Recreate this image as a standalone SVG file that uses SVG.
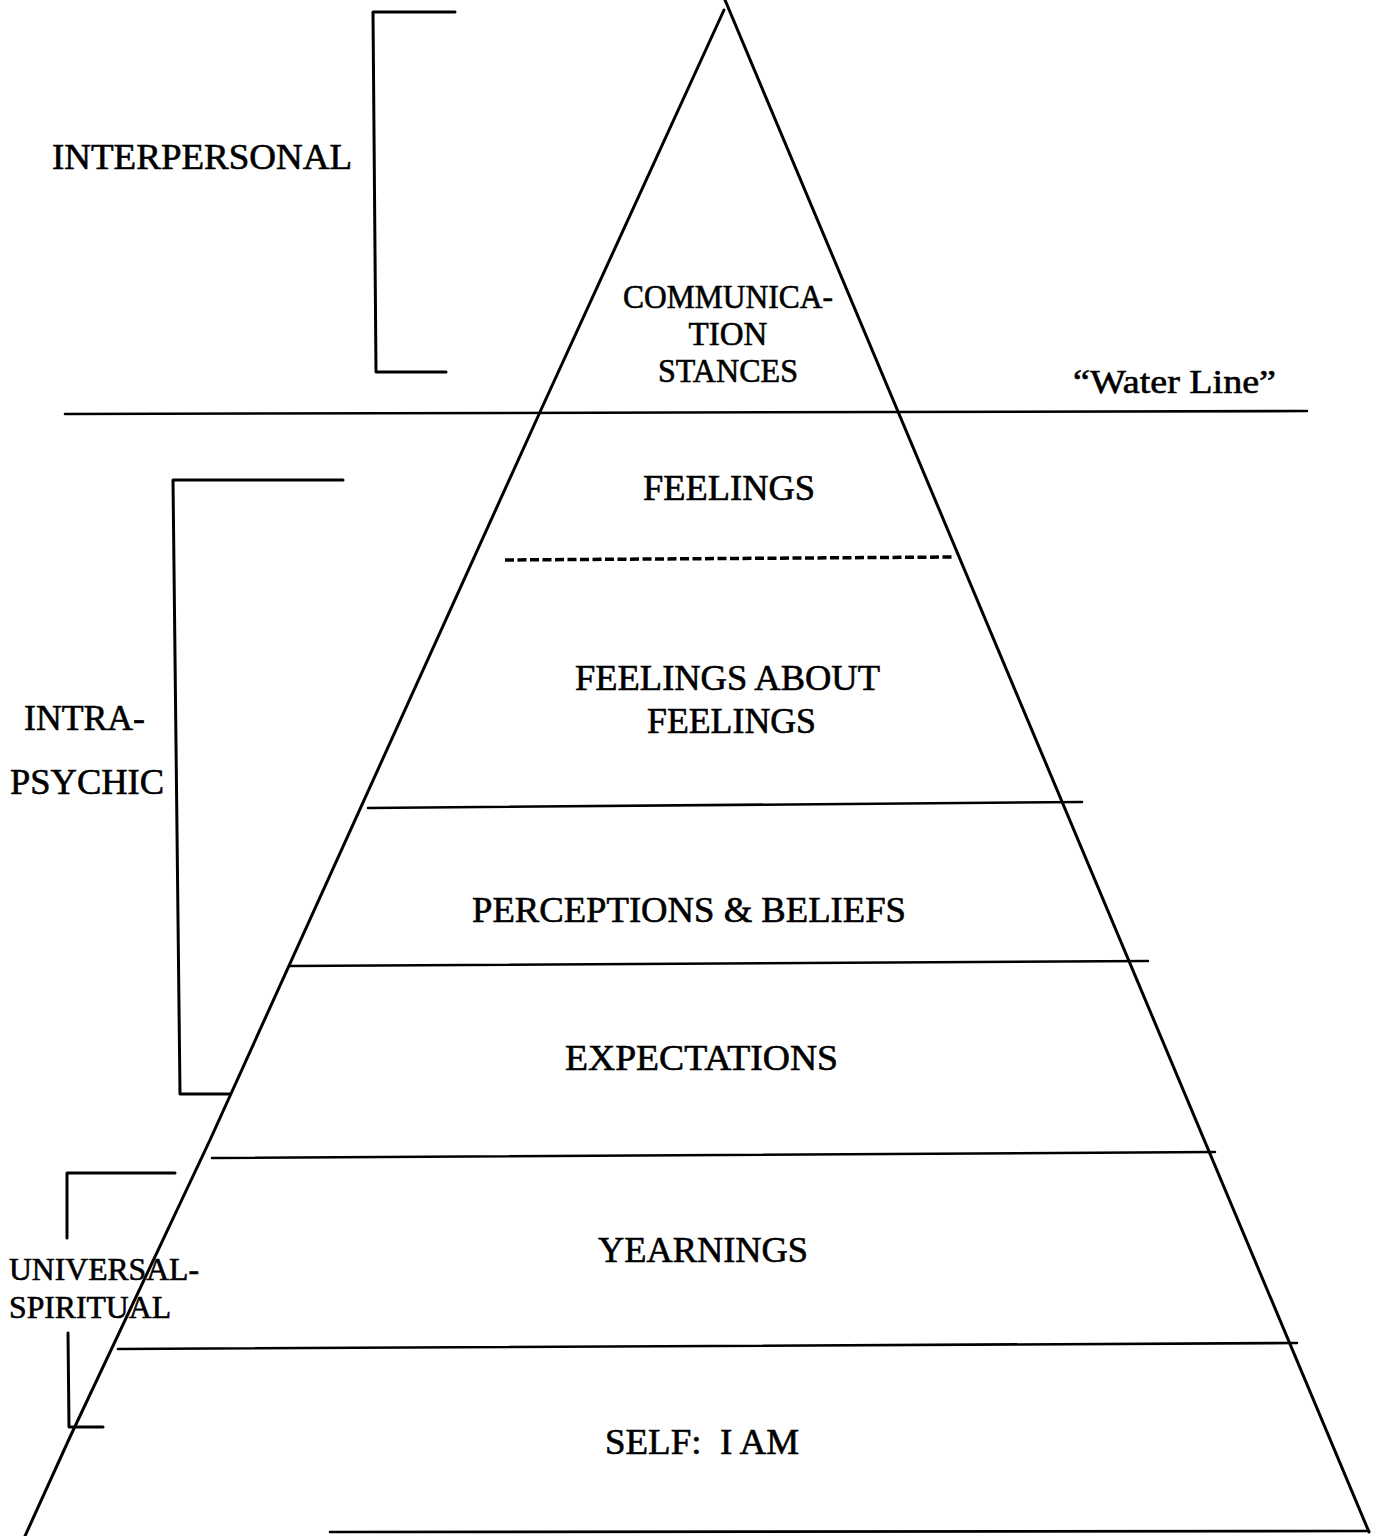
<svg xmlns="http://www.w3.org/2000/svg" width="1381" height="1536" viewBox="0 0 1381 1536">
<style>
.ln{fill:none;stroke:#000;stroke-width:3;stroke-linecap:round;stroke-linejoin:round}
.hl{fill:none;stroke:#000;stroke-width:2.6;stroke-linecap:round}
.ds{fill:none;stroke:#000;stroke-width:3.5;stroke-dasharray:9 3.5}
.t{font-family:"Liberation Serif","Times New Roman",serif;font-size:35px;fill:#000;stroke:#000;stroke-width:0.6}
.s{font-size:33px}
.u{font-size:31px}
</style>
<rect width="1381" height="1536" fill="#fff"/>
<g id="pyramid">
<polyline class="ln" points="724,10 540,412 210,1140 70,1437 25,1536"/>
<line class="ln" x1="725" y1="0" x2="1369" y2="1532"/>
</g>
<g id="layers">
<line class="hl" x1="65" y1="414" x2="1307" y2="411"/>
<line class="ds" x1="505" y1="560" x2="955" y2="557"/>
<line class="hl" x1="368" y1="808" x2="1082" y2="802"/>
<line class="hl" x1="290" y1="966" x2="1148" y2="961"/>
<line class="hl" x1="212" y1="1158" x2="1215" y2="1152"/>
<line class="hl" x1="118" y1="1349" x2="1297" y2="1343"/>
<line class="hl" x1="330" y1="1532" x2="1369" y2="1531"/>
</g>
<g id="brackets">
<path class="ln" d="M455,12 L373,12 L376,372 L446,372"/>
<path class="ln" d="M343,480 L173,480 L180,1094 L230,1094"/>
<path class="ln" d="M175,1173 L67,1173 L67,1238"/>
<path class="ln" d="M68,1333 L69,1427 L103,1427"/>
</g>
<g id="labels">
<text class="t" x="52" y="169" textLength="300" lengthAdjust="spacingAndGlyphs">INTERPERSONAL</text>
<text class="t s" x="623" y="308" textLength="210" lengthAdjust="spacingAndGlyphs">COMMUNICA-</text>
<text class="t s" x="728" y="345" text-anchor="middle">TION</text>
<text class="t s" x="728" y="382" text-anchor="middle" textLength="140" lengthAdjust="spacingAndGlyphs">STANCES</text>
<text class="t s" x="1073" y="393" textLength="203" lengthAdjust="spacingAndGlyphs">“Water Line”</text>
<text class="t" x="643" y="500" textLength="172" lengthAdjust="spacingAndGlyphs">FEELINGS</text>
<text class="t" x="575" y="690" textLength="305" lengthAdjust="spacingAndGlyphs">FEELINGS ABOUT</text>
<text class="t" x="647" y="733" textLength="169" lengthAdjust="spacingAndGlyphs">FEELINGS</text>
<text class="t" x="24" y="730" textLength="121" lengthAdjust="spacingAndGlyphs">INTRA-</text>
<text class="t" x="10" y="794" textLength="154" lengthAdjust="spacingAndGlyphs">PSYCHIC</text>
<text class="t" x="472" y="922" textLength="434" lengthAdjust="spacingAndGlyphs">PERCEPTIONS &amp; BELIEFS</text>
<text class="t" x="565" y="1070" textLength="273" lengthAdjust="spacingAndGlyphs">EXPECTATIONS</text>
<text class="t" x="598" y="1262" textLength="210" lengthAdjust="spacingAndGlyphs">YEARNINGS</text>
<text class="t u" x="9" y="1280" textLength="190" lengthAdjust="spacingAndGlyphs">UNIVERSAL-</text>
<text class="t u" x="9" y="1318" textLength="162" lengthAdjust="spacingAndGlyphs">SPIRITUAL</text>
<text class="t" x="605" y="1454" textLength="194" lengthAdjust="spacingAndGlyphs">SELF:&#160; I AM</text>
</g>
</svg>
